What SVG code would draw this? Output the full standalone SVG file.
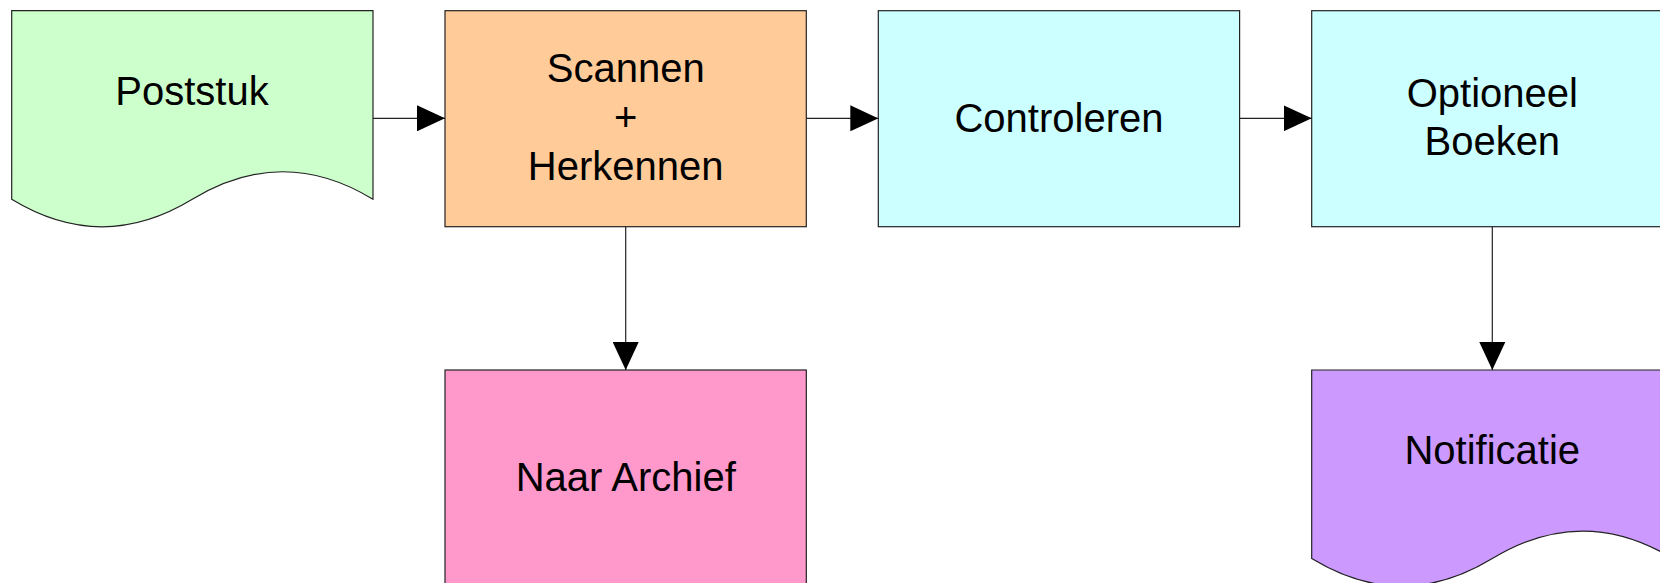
<svg xmlns="http://www.w3.org/2000/svg" width="1660" height="583" viewBox="0 0 1660 583">
<style>
.box{stroke:#222;stroke-width:1.2}
.lbl{font-family:"Liberation Sans",Arial,sans-serif;font-size:40px;fill:#000;text-anchor:middle}
.con{stroke:#222;stroke-width:1.2;fill:none}
</style>
<defs>
<marker id="ah" markerUnits="userSpaceOnUse" markerWidth="28" markerHeight="26" refX="28" refY="13" orient="auto">
<path d="M0,0 L28,13 L0,26 z" fill="#000"/>
</marker>
</defs>
<g id="poststuk">
<path class="box" fill="#CCFFCC" d="M11.7,10.7 H373 V199.3 C312.8,162.6 252.5,162.6 192.3,199.3 C132,236 71.9,236 11.7,199.3 Z"/>
<text class="lbl" x="192" y="105">Poststuk</text>
</g>
<g id="scannen">
<rect class="box" fill="#FFCC99" x="445" y="10.7" width="361.3" height="216"/>
<text class="lbl" x="625.7" y="82">Scannen</text>
<text class="lbl" x="625.7" y="131">+</text>
<text class="lbl" x="625.7" y="180">Herkennen</text>
</g>
<g id="controleren">
<rect class="box" fill="#CCFFFF" x="878.3" y="10.7" width="361.3" height="216"/>
<text class="lbl" x="1059" y="132">Controleren</text>
</g>
<g id="optioneel">
<rect class="box" fill="#CCFFFF" x="1311.7" y="10.7" width="361.3" height="216"/>
<text class="lbl" x="1492.3" y="107">Optioneel</text>
<text class="lbl" x="1492.3" y="155">Boeken</text>
</g>
<g id="archief">
<rect class="box" fill="#FF99CC" x="445" y="370" width="361.3" height="216"/>
<text class="lbl" x="625.7" y="491">Naar Archief</text>
</g>
<g id="notificatie">
<path class="box" fill="#CC99FF" d="M1311.7,370 H1673 V558.6 C1612.8,521.9 1552.5,521.9 1492.3,558.6 C1432,595.3 1371.9,595.3 1311.7,558.6 Z"/>
<text class="lbl" x="1492.3" y="464">Notificatie</text>
</g>
<g id="connectors">
<line class="con" x1="373" y1="118.3" x2="445" y2="118.3" marker-end="url(#ah)"/>
<line class="con" x1="806.3" y1="118.3" x2="878.3" y2="118.3" marker-end="url(#ah)"/>
<line class="con" x1="1239.6" y1="118.3" x2="1311.7" y2="118.3" marker-end="url(#ah)"/>
<line class="con" x1="625.7" y1="226.7" x2="625.7" y2="370" marker-end="url(#ah)"/>
<line class="con" x1="1492.3" y1="226.7" x2="1492.3" y2="370" marker-end="url(#ah)"/>
</g>
</svg>
